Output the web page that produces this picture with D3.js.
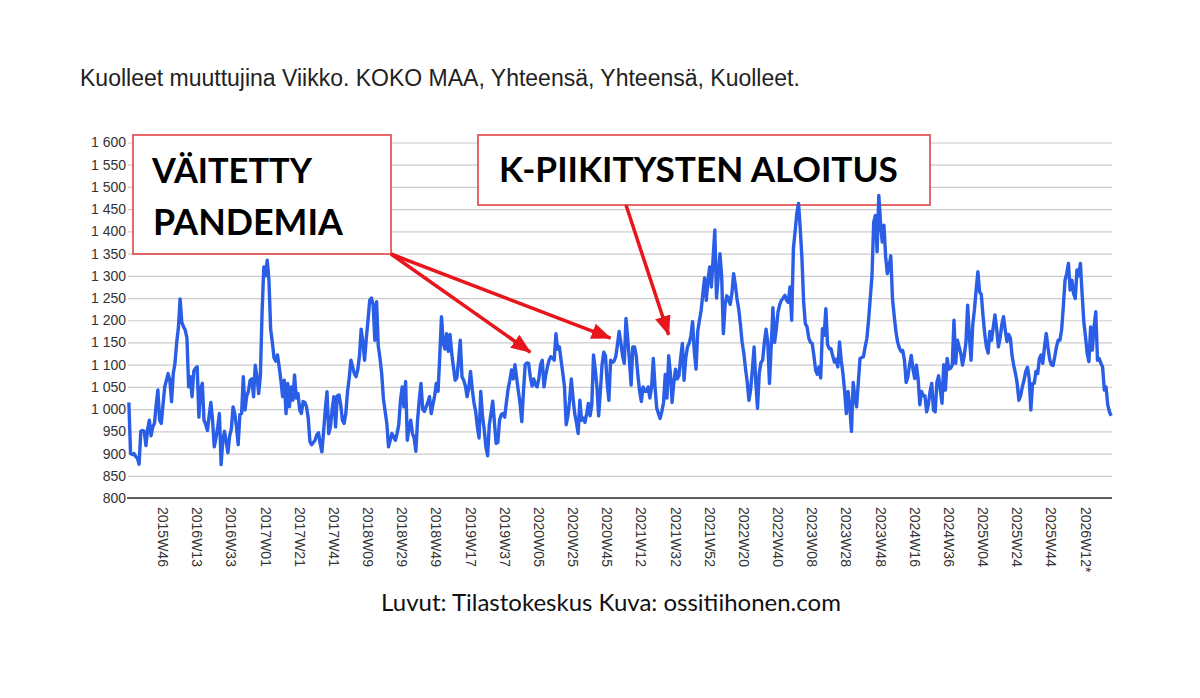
<!DOCTYPE html>
<html>
<head>
<meta charset="utf-8">
<script src="https://cdn.jsdelivr.net/npm/d3@7"></script>
<style>
  body { margin: 0; background: #fff; }
  svg { display: block; }
</style>
</head>
<body>
<script>
// weekly deaths, whole country, 2015W26 .. 2026W27
const deaths2015 = [1015, 900, 898, 900, 893, 890, 876, 950, 952, 950, 918, 955, 975, 940, 960, 968, 1010, 1043, 975, 968, 1010, 1050, 1065, 1080, 1065, 1017, 1080, 1103];
const deaths2016 = [1150, 1183, 1248, 1195, 1185, 1178, 1160, 1050, 1073, 1028, 1085, 1092, 1095, 982, 1045, 1058, 975, 966, 952, 985, 1015, 975, 915, 935, 960, 990, 875, 930, 950, 925, 902, 940, 955, 1005, 990, 960, 920, 988, 990, 1073, 998, 1030, 1040, 1065, 1068, 1028, 1099, 1073, 1035, 1075, 1220, 1320];
const deaths2017 = [1300, 1335, 1290, 1180, 1150, 1115, 1108, 1122, 1095, 1065, 1028, 1065, 990, 1058, 1005, 1050, 1020, 1077, 1025, 1035, 998, 990, 1017, 1015, 1005, 980, 927, 920, 925, 930, 942, 947, 922, 904, 950, 1000, 1039, 945, 960, 1000, 1028, 960, 1030, 1032, 1010, 975, 968, 990, 1040, 1070, 1110, 1095];
const deaths2018 = [1080, 1073, 1088, 1120, 1180, 1150, 1110, 1160, 1200, 1245, 1250, 1235, 1155, 1242, 1142, 1115, 1080, 1024, 995, 968, 915, 930, 945, 938, 930, 945, 965, 1020, 1050, 1005, 1062, 930, 960, 975, 945, 935, 905, 975, 1020, 1058, 1000, 995, 1005, 1015, 1028, 990, 1010, 1030, 1058, 1040, 1120, 1208];
const deaths2019 = [1150, 1135, 1170, 1130, 1168, 1125, 1095, 1065, 1070, 1110, 1155, 1073, 1065, 1052, 1028, 1048, 1085, 1045, 1015, 995, 960, 935, 1040, 985, 955, 915, 895, 965, 990, 1018, 970, 923, 925, 975, 988, 990, 982, 1015, 1045, 1065, 1088, 1068, 1100, 1070, 1040, 1013, 972, 1040, 1100, 1104, 1103, 1073];
const deaths2020 = [1052, 1068, 1055, 1050, 1069, 1100, 1110, 1050, 1075, 1095, 1110, 1118, 1115, 1110, 1170, 1135, 1140, 1110, 1082, 1050, 965, 985, 1020, 1068, 1025, 990, 970, 945, 1020, 975, 980, 970, 990, 1013, 985, 1010, 1122, 1090, 1050, 985, 1040, 1100, 1128, 1120, 1058, 1020, 1110, 1105, 1108, 1118, 1145, 1175, 1150];
const deaths2021 = [1120, 1103, 1204, 1160, 1110, 1054, 1140, 1140, 1120, 1075, 1040, 1017, 1050, 1040, 1040, 1050, 1025, 1050, 1114, 1050, 1002, 990, 979, 995, 1015, 1078, 1025, 1120, 1080, 1015, 1060, 1090, 1068, 1075, 1115, 1148, 1065, 1115, 1140, 1148, 1165, 1197, 1130, 1090, 1175, 1200, 1222, 1260, 1295, 1245, 1290, 1320];
const deaths2022 = [1275, 1340, 1403, 1250, 1298, 1350, 1300, 1170, 1234, 1255, 1250, 1236, 1260, 1305, 1280, 1248, 1225, 1190, 1150, 1125, 1090, 1060, 1020, 1045, 1090, 1140, 1060, 1002, 1080, 1105, 1110, 1150, 1180, 1150, 1058, 1140, 1228, 1150, 1180, 1219, 1235, 1245, 1250, 1256, 1245, 1240, 1275, 1200, 1361, 1400, 1440, 1463];
const deaths2023 = [1406, 1340, 1240, 1192, 1185, 1160, 1150, 1148, 1120, 1088, 1078, 1095, 1070, 1181, 1166, 1226, 1145, 1136, 1136, 1120, 1106, 1112, 1095, 1151, 1110, 1080, 1040, 990, 1040, 1005, 950, 1060, 1025, 1005, 1060, 1114, 1116, 1118, 1140, 1159, 1200, 1250, 1300, 1420, 1436, 1354, 1481, 1420, 1376, 1414, 1343, 1305];
const deaths2024 = [1320, 1345, 1249, 1210, 1175, 1151, 1138, 1130, 1132, 1110, 1060, 1072, 1100, 1121, 1090, 1069, 1099, 1069, 1010, 1040, 1030, 1030, 994, 1010, 1040, 1058, 998, 994, 1060, 1075, 1043, 1013, 1100, 1043, 1114, 1090, 1092, 1099, 1200, 1103, 1155, 1140, 1125, 1099, 1120, 1150, 1234, 1163, 1110, 1190, 1225, 1270];
const deaths2025 = [1309, 1264, 1258, 1210, 1170, 1140, 1126, 1175, 1155, 1185, 1212, 1180, 1140, 1160, 1190, 1208, 1178, 1152, 1168, 1160, 1120, 1098, 1080, 1058, 1020, 1030, 1050, 1065, 1085, 1094, 1070, 998, 1058, 1058, 1085, 1080, 1114, 1122, 1103, 1140, 1170, 1140, 1112, 1100, 1098, 1118, 1140, 1155, 1155, 1178, 1230, 1290];
const deaths2026 = [1305, 1328, 1268, 1290, 1260, 1249, 1313, 1300, 1328, 1260, 1197, 1163, 1125, 1107, 1185, 1133, 1185, 1219, 1110, 1114, 1103, 1095, 1043, 1050, 1010, 994, 985];

const years = [2015, 2016, 2017, 2018, 2019, 2020, 2021, 2022, 2023, 2024, 2025, 2026];
const firstWeek = [26, 1, 1, 1, 1, 1, 1, 1, 1, 1, 1, 1];
const yearSeries = [deaths2015, deaths2016, deaths2017, deaths2018, deaths2019, deaths2020,
                    deaths2021, deaths2022, deaths2023, deaths2024, deaths2025, deaths2026];
const preliminaryYear = 2026;

const xTickLabels = ["2015W46", "2016W13", "2016W33", "2017W01", "2017W21", "2017W41", "2018W09",
  "2018W29", "2018W49", "2019W17", "2019W37", "2020W05", "2020W25", "2020W45", "2021W12",
  "2021W32", "2021W52", "2022W20", "2022W40", "2023W08", "2023W28", "2023W48", "2024W16",
  "2024W36", "2025W04", "2025W24", "2025W44", "2026W12*"];
const yTicks = [800, 850, 900, 950, 1000, 1050, 1100, 1150, 1200, 1250, 1300, 1350, 1400, 1450, 1500, 1550, 1600];

const titleText = "Kuolleet muuttujina Viikko. KOKO MAA, Yhteensä, Yhteensä, Kuolleet.";
const sourceText = "Luvut: Tilastokeskus Kuva: ossitiihonen.com";

// callouts: box lines and where each arrow points (category, value)
const boxLines1 = ["VÄITETTY", "PANDEMIA"];
const boxLines2 = ["K-PIIKITYSTEN ALOITUS"];
const arrowTargets = [
  { from: "box1", week: "2019W52", value: 1128 },
  { from: "box1", week: "2020W47", value: 1160 },
  { from: "box2", week: "2021W28", value: 1167 }
];

// build the category list
const rows = [];
yearSeries.forEach((vals, i) => {
  vals.forEach((v, j) => {
    const wk = firstWeek[i] + j;
    const label = years[i] + "W" + String(wk).padStart(2, "0") + (years[i] === preliminaryYear ? "*" : "");
    rows.push({ week: label, value: v });
  });
});
const categories = rows.map(d => d.week);

const width = 1200;
const height = 698;
const plotLeft = 128, plotRight = 1112, plotTop = 142.5, plotBottom = 498;

const svg = d3.select("body").append("svg")
  .attr("width", width)
  .attr("height", height);

svg.append("rect").attr("width", width).attr("height", height).attr("fill", "#fff");

const x = d3.scalePoint().domain(categories).range([plotLeft, plotRight]).padding(0.5);
const y = d3.scaleLinear().domain([800, 1600]).range([plotBottom, plotTop]);

function fitWidth(sel, w) {
  const size = parseFloat(sel.attr("font-size"));
  const len = sel.node().getComputedTextLength();
  sel.attr("font-size", (size * w / len).toFixed(2));
}

// title
const title = svg.append("text")
  .attr("x", 80).attr("y", 86)
  .attr("font-family", "'Liberation Sans', Arial, sans-serif")
  .attr("font-size", 20)
  .attr("fill", "#222")
  .text(titleText);
fitWidth(title, 720);

// y axis + grid
const fmt = d3.formatLocale({ decimal: ",", thousands: " ", grouping: [3], currency: ["", "€"] }).format(",");
const yAxis = svg.append("g")
  .attr("transform", `translate(${plotLeft},0)`)
  .call(d3.axisLeft(y).tickValues(yTicks).tickSize(-(plotRight - plotLeft)).tickPadding(2).tickFormat(fmt));
yAxis.select(".domain").remove();
yAxis.selectAll(".tick line").attr("stroke", "#cccccc").attr("stroke-width", 1.2);
yAxis.selectAll(".tick text")
  .attr("font-family", "'Liberation Sans', Arial, sans-serif")
  .attr("font-size", 14)
  .attr("fill", "#333");

svg.append("line")
  .attr("x1", plotLeft - 1).attr("x2", plotRight)
  .attr("y1", y(800)).attr("y2", y(800))
  .attr("stroke", "#333").attr("stroke-width", 1.5);

// x labels, rotated
svg.append("g").selectAll("text")
  .data(xTickLabels)
  .join("text")
  .attr("transform", d => `translate(${x(d)},${plotBottom + 9}) rotate(90)`)
  .attr("dy", "0.35em")
  .attr("font-family", "'Liberation Sans', Arial, sans-serif")
  .attr("font-size", 14)
  .attr("fill", "#333")
  .text(d => d);

// callout boxes
const boxes = {
  box1: { x: 133, y: 135, w: 258, h: 119, corner: [391, 254] },
  box2: { x: 478, y: 135, w: 452, h: 70, corner: [626, 205] }
};
Object.values(boxes).forEach(b => {
  svg.append("rect")
    .attr("x", b.x).attr("y", b.y).attr("width", b.w).attr("height", b.h)
    .attr("fill", "#fff").attr("stroke", "#e04343").attr("stroke-width", 1.6);
});

const calloutFont = "Lato, 'Open Sans', sans-serif";
const t1 = svg.append("text").attr("x", 152).attr("y", 183).attr("font-family", calloutFont)
  .attr("font-weight", 700).attr("font-size", 36).attr("fill", "#000").text(boxLines1[0]);
fitWidth(t1, 160);
const t2 = svg.append("text").attr("x", 153).attr("y", 235).attr("font-family", calloutFont)
  .attr("font-weight", 700).attr("font-size", 36).attr("fill", "#000").text(boxLines1[1]);
fitWidth(t2, 190);
const t3 = svg.append("text").attr("x", 499).attr("y", 182).attr("font-family", calloutFont)
  .attr("font-weight", 700).attr("font-size", 36).attr("fill", "#000").text(boxLines2[0]);
fitWidth(t3, 399);

// the series
const line = d3.line()
  .x(d => x(d.week))
  .y(d => y(d.value));

svg.append("path")
  .datum(rows)
  .attr("fill", "none")
  .attr("stroke", "#2a5ee6")
  .attr("stroke-width", 3.4)
  .attr("stroke-linejoin", "round")
  .attr("d", line);

// arrows
svg.append("defs").append("marker")
  .attr("id", "head")
  .attr("markerUnits", "userSpaceOnUse")
  .attr("viewBox", "0 0 20 16")
  .attr("markerWidth", 20).attr("markerHeight", 16)
  .attr("refX", 19).attr("refY", 8)
  .attr("orient", "auto")
  .append("path")
  .attr("d", "M0,0 L20,8 L0,16 Z")
  .attr("fill", "#e8161c");

arrowTargets.forEach(a => {
  const start = boxes[a.from].corner;
  svg.append("line")
    .attr("x1", start[0]).attr("y1", start[1])
    .attr("x2", x(a.week)).attr("y2", y(a.value))
    .attr("stroke", "#e8161c").attr("stroke-width", 3.5)
    .attr("marker-end", "url(#head)");
});

// source
const src = svg.append("text")
  .attr("x", 611).attr("y", 611)
  .attr("text-anchor", "middle")
  .attr("font-family", calloutFont)
  .attr("font-size", 21)
  .attr("fill", "#111")
  .text(sourceText);
fitWidth(src, 460);
</script>
</body>
</html>
